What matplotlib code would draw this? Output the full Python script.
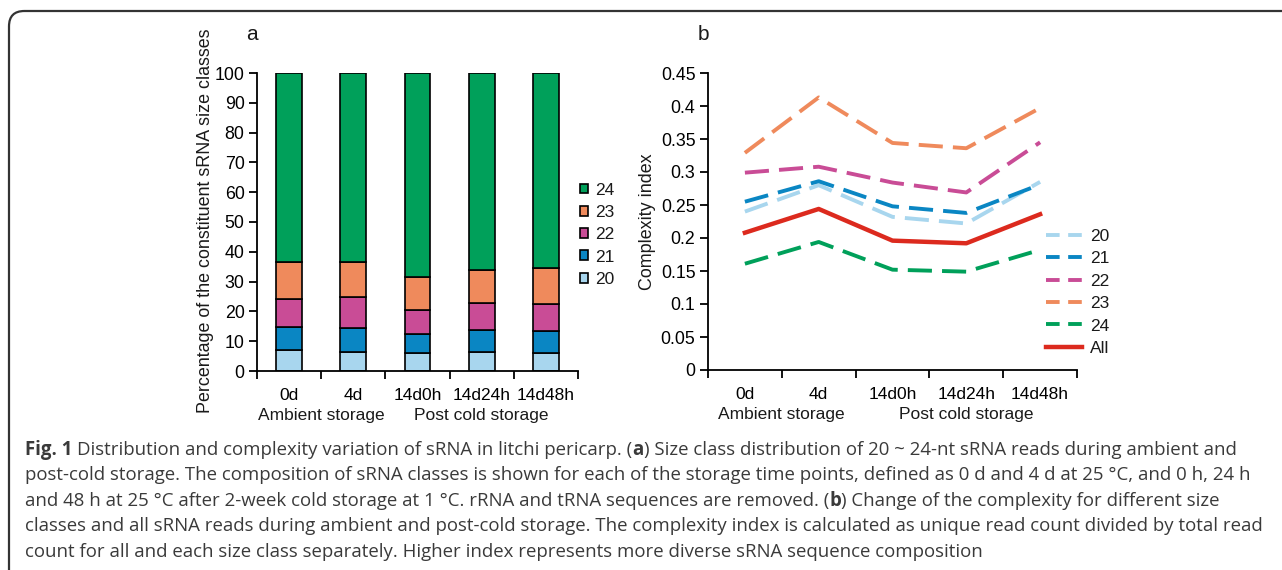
import numpy as np
import matplotlib
matplotlib.use('Agg')
import matplotlib.pyplot as plt
from matplotlib.patches import Patch, FancyBboxPatch
from matplotlib.lines import Line2D

# ----- data -----
time_points = ['0d', '4d', '14d0h', '14d24h', '14d48h']
groups = ['Ambient storage', 'Post cold storage']

# panel a: percentage of each size class
pct_20 = [6.9, 6.5, 5.9, 6.5, 6.2]
pct_21 = [7.9, 7.9, 6.4, 7.3, 7.3]
pct_22 = [9.4, 10.5, 8.2, 8.9, 9.1]
pct_23 = [12.3, 11.6, 10.9, 11.2, 12.1]
pct_24 = [63.5, 63.5, 68.6, 66.1, 65.3]

# panel b: complexity index
cx_20 = [0.240, 0.280, 0.232, 0.222, 0.285]
cx_21 = [0.255, 0.286, 0.248, 0.238, 0.281]
cx_22 = [0.299, 0.308, 0.284, 0.269, 0.345]
cx_23 = [0.329, 0.413, 0.344, 0.336, 0.397]
cx_24 = [0.161, 0.194, 0.152, 0.149, 0.182]
cx_all = [0.208, 0.244, 0.196, 0.192, 0.236]

size_labels = ['20', '21', '22', '23', '24']
colors = ['#a8d6ee', '#0a86c3', '#c94c96', '#ef8a5c', '#00a05a']
red = '#dc2a1e'

# caption lines, split in (text, bold) pieces
caption = [
    [('Fig. 1 ', True), ('Distribution and complexity variation of sRNA in litchi pericarp. (', False), ('a', True),
     (') Size class distribution of 20 ~ 24-nt sRNA reads during ambient and', False)],
    [('post-cold storage. The composition of sRNA classes is shown for each of the storage time points, '
      'defined as 0 d and 4 d at 25 \u00b0C, and 0 h, 24 h', False)],
    [('and 48 h at 25 \u00b0C after 2-week cold storage at 1 \u00b0C. rRNA and tRNA sequences are removed. (', False),
     ('b', True), (') Change of the complexity for different size', False)],
    [('classes and all sRNA reads during ambient and post-cold storage. The complexity index is calculated as '
      'unique read count divided by total read', False)],
    [('count for all and each size class separately. Higher index represents more diverse sRNA sequence composition', False)],
]

W, H = 1282, 570
plt.rcParams['font.family'] = ['Liberation Sans', 'DejaVu Sans']
plt.rcParams['font.size'] = 12.5
plt.rcParams['text.color'] = '#1a1a1a'


def fx(px):
    return px / W


def fy(py):
    return 1 - py / H


def style_axes(ax):
    for s in ['top', 'right']:
        ax.spines[s].set_visible(False)
    for s in ['left', 'bottom']:
        ax.spines[s].set_linewidth(1.3)
    ax.set_xlim(-0.5, 4.5)
    ax.set_xticks(np.arange(-0.5, 5, 1))
    ax.set_xticklabels([])
    ax.set_xticks(np.arange(5), minor=True)
    ax.set_xticklabels(time_points, minor=True)
    ax.tick_params(axis='x', which='major', direction='out', length=6, width=1.3)
    ax.tick_params(axis='x', which='minor', length=0, pad=12, labelsize=12.5)
    ax.tick_params(axis='y', direction='out', length=6, width=1.3, labelsize=12.8, pad=3)
    tr = matplotlib.transforms.blended_transform_factory(ax.transData, ax.transAxes)
    ax.text(0.5, -0.15, groups[0], transform=tr, ha='center', va='center', fontsize=12.5)
    ax.text(3.0, -0.15, groups[1], transform=tr, ha='center', va='center', fontsize=12.5)


fig = plt.figure(figsize=(W / 100, H / 100), dpi=100)

# border with rounded corner
border = FancyBboxPatch((fx(9), fy(H + 40)), fx(W + 40), fy(11) - fy(H + 40),
                        boxstyle='round,pad=0,rounding_size=0.012',
                        transform=fig.transFigure, fill=False,
                        edgecolor='#333333', linewidth=1.6, mutation_aspect=W / H)
fig.patches.append(border)

# ----- panel a -----
axa = fig.add_axes([fx(257), fy(371), fx(578 - 257), (371 - 73) / H])
x = np.arange(len(time_points))
bottom = np.zeros(len(x))
for vals, c in zip([pct_20, pct_21, pct_22, pct_23, pct_24], colors):
    axa.bar(x, vals, bottom=bottom, width=0.4, color=c, edgecolor='black', linewidth=1.2)
    bottom += np.array(vals)
axa.set_ylim(0, 100)
axa.set_yticks(np.arange(0, 101, 10))
style_axes(axa)
fig.text(fx(205), fy(221), 'Percentage of the constituent sRNA size classes',
         rotation=90, ha='center', va='center', fontsize=12.9)
fig.text(fx(252), fy(35), 'a', ha='center', va='center', fontsize=15)

handles = [Patch(facecolor=c, edgecolor='black', linewidth=1.2) for c in colors][::-1]
fig.legend(handles, size_labels[::-1], loc='upper left', bbox_to_anchor=(fx(564), fy(167)),
           frameon=False, handlelength=0.5, handleheight=0.5, handletextpad=0.4,
           labelspacing=0.42, fontsize=12.5)

# ----- panel b -----
axb = fig.add_axes([fx(708), fy(370), fx(1077 - 708), (370 - 73) / H])
dash = (0, (6.2, 2.6))
for vals, c in zip([cx_20, cx_21, cx_22, cx_23, cx_24], colors):
    axb.plot(x, vals, color=c, linewidth=2.8, linestyle=dash)
axb.plot(x, cx_all, color=red, linewidth=3.2)
axb.set_ylim(0, 0.45)
axb.set_yticks(np.arange(0, 0.451, 0.05))
axb.set_yticklabels(['0', '0.05', '0.1', '0.15', '0.2', '0.25', '0.3', '0.35', '0.4', '0.45'])
style_axes(axb)
fig.text(fx(647), fy(222), 'Complexity index', rotation=90, ha='center', va='center', fontsize=12.9)
fig.text(fx(703), fy(35), 'b', ha='center', va='center', fontsize=15)

lh = [Line2D([], [], color=c, linewidth=2.8, linestyle=(0, (3.5, 2.2))) for c in colors]
lh.append(Line2D([], [], color=red, linewidth=3.2))
fig.legend(lh, size_labels + ['All'], loc='upper left', bbox_to_anchor=(fx(1030), fy(213)),
           frameon=False, handlelength=2.1, handletextpad=0.45, labelspacing=0.42, fontsize=12.5)

# ----- caption -----
cap_kw = dict(fontsize=13.4, color='#3a3a3a', va='center', ha='left', family=['Open Sans', 'DejaVu Sans'])
renderer = fig.canvas.get_renderer()
for i, pieces in enumerate(caption):
    xpos = 25
    ypos = 450 + 25.4 * i
    for txt, bold in pieces:
        t = fig.text(fx(xpos), fy(ypos), txt, fontweight='bold' if bold else 'normal', **cap_kw)
        xpos += t.get_window_extent(renderer).width

fig.savefig('out.png', dpi=100)
